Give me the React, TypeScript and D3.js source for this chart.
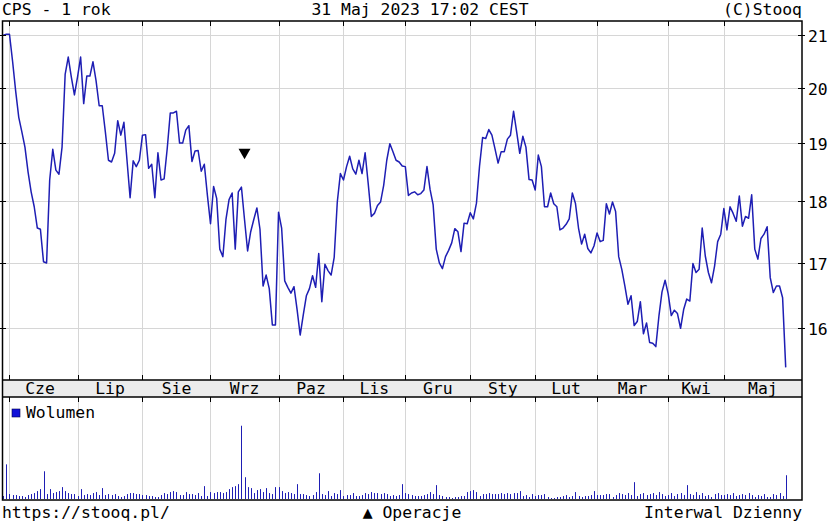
import React from 'react';
import * as d3 from 'd3';

const title = 'CPS - 1 rok';
const dateLabel = '31 Maj 2023 17:02 CEST';
const copyright = '(C)Stooq';
const footerLeft = 'https://stooq.pl/';
const footerMid = '▲ Operacje';
const footerRight = 'Interwal Dzienny';
const legendLabel = 'Wolumen';

const monthLabels = ['Cze', 'Lip', 'Sie', 'Wrz', 'Paz', 'Lis', 'Gru', 'Sty', 'Lut', 'Mar', 'Kwi', 'Maj'];
// trading-day index where each month starts
const monthStart = [2, 24, 45, 67, 89, 110, 130, 151, 172, 192, 215, 233];
const yTicks = [16, 17, 18, 19, 20, 21];
const yDomain = [15.25, 21.28];

const close = [
  21.0, 21.02, 21.02, 20.5, 19.94, 19.46, 19.2, 18.93, 18.5, 18.16,
  17.91, 17.56, 17.54, 17.02, 17.0, 18.36, 18.89, 18.53, 18.46, 18.93,
  20.25, 20.58, 20.2, 19.87, 20.2, 20.58, 19.71, 20.22, 20.22, 20.49,
  20.13, 19.67, 19.67, 19.2, 18.7, 18.67, 18.82, 19.4, 19.14, 19.37,
  18.7, 18.06, 18.69, 18.59, 18.7, 19.14, 19.15, 18.56, 18.63, 18.06,
  18.83, 18.36, 18.38, 18.9, 19.54, 19.54, 19.57, 19.0, 19.0, 19.23,
  19.31, 18.68, 18.86, 18.87, 18.51, 18.63, 18.1, 17.63, 18.25, 18.05,
  17.22, 17.1, 17.7, 18.03, 18.14, 17.22, 18.16, 18.24, 17.7, 17.19,
  17.5, 17.7, 17.89, 17.54, 16.64, 16.81, 16.6, 16.05, 16.05, 17.82,
  17.56, 16.72, 16.62, 16.53, 16.63, 16.28, 15.9, 16.2, 16.49, 16.6,
  16.8, 16.62, 17.15, 16.4, 16.98, 16.88, 16.81, 17.09, 17.99, 18.47,
  18.36, 18.59, 18.77, 18.55, 18.46, 18.7, 18.47, 18.83, 18.3, 17.75,
  17.8, 17.93, 17.99, 18.27, 18.7, 18.99, 18.85, 18.7, 18.67, 18.6,
  18.59, 18.1, 18.14, 18.16, 18.11, 18.13, 18.19, 18.59, 18.2, 17.94,
  17.22, 17.0, 16.91, 17.1, 17.2, 17.32, 17.55, 17.5, 17.18, 17.64,
  17.63, 17.81, 17.71, 17.97, 18.6, 19.1, 19.08, 19.24, 19.14, 18.9,
  18.65, 18.85, 18.85, 19.07, 19.14, 19.57, 19.2, 18.82, 19.12, 18.93,
  18.37, 18.36, 18.19, 18.79, 18.59, 17.91, 17.91, 18.14, 17.96, 17.91,
  17.53, 17.56, 17.62, 17.71, 18.14, 17.97, 17.56, 17.3, 17.46, 17.23,
  17.16, 17.27, 17.48, 17.34, 17.36, 17.96, 17.79, 17.99, 17.83, 17.1,
  16.9, 16.64, 16.36, 16.49, 16.04, 16.1, 16.4, 15.92, 16.08, 15.79,
  15.78, 15.73, 16.18, 16.55, 16.73, 16.52, 16.19, 16.27, 16.22, 16.0,
  16.28, 16.44, 16.41, 16.99, 16.85, 16.9, 17.56, 17.11, 16.85, 16.69,
  16.95, 17.34, 17.46, 17.88, 17.53, 17.91, 17.8, 17.67, 18.09, 17.59,
  17.75, 17.72, 18.11, 17.22, 17.06, 17.39, 17.46, 17.58, 16.77, 16.54,
  16.64, 16.64, 16.46, 15.43,
];

const volume = [
  3, 35, 5, 4, 4, 3, 3, 2, 4, 5,
  6, 8, 10, 28, 5, 10, 6, 7, 8, 12,
  8, 6, 5, 5, 3, 10, 4, 5, 4, 6,
  7, 4, 11, 4, 5, 4, 5, 3, 2, 3,
  5, 6, 6, 5, 5, 4, 4, 3, 3, 2,
  2, 4, 6, 5, 7, 8, 7, 4, 4, 7,
  5, 5, 4, 6, 3, 13, 3, 7, 6, 7,
  7, 6, 7, 10, 12, 13, 15, 74, 22, 12,
  11, 6, 9, 10, 7, 11, 6, 5, 12, 12,
  8, 6, 7, 6, 5, 15, 5, 5, 4, 3,
  4, 7, 26, 5, 4, 8, 3, 6, 5, 9,
  3, 4, 4, 6, 3, 3, 4, 6, 5, 7,
  6, 6, 5, 6, 5, 3, 4, 3, 4, 15,
  6, 5, 4, 3, 3, 3, 4, 5, 7, 5,
  14, 4, 3, 2, 2, 1, 2, 2, 3, 3,
  7, 8, 9, 7, 3, 5, 5, 6, 5, 5,
  5, 6, 5, 6, 5, 6, 6, 8, 3, 4,
  2, 5, 3, 4, 4, 5, 2, 1, 1, 2,
  2, 3, 4, 2, 3, 7, 3, 2, 3, 3,
  4, 8, 4, 4, 4, 5, 5, 2, 4, 6,
  5, 4, 6, 4, 17, 3, 5, 6, 4, 5,
  6, 4, 7, 5, 3, 4, 6, 3, 5, 6,
  4, 14, 5, 4, 7, 4, 6, 3, 4, 2,
  5, 6, 4, 4, 5, 4, 6, 3, 4, 5,
  4, 6, 4, 2, 4, 3, 5, 2, 2, 5,
  4, 6, 3, 24,
];
const volumeMax = 100;

const operations = [{ index: 78, level: 18.84 }];

const W = 829;
const H = 523;
const L = 2.5;
const R = 802;
const mainTop = 21;
const mainBot = 380;
const bandBot = 397;
const volTop = 397;
const volBot = 500;
const FONT = '"DejaVu Sans Mono", monospace';
const FS = 16.4;
const BLUE = '#1e1eb4';
const GRID = '#d6d6d6';

export default function App() {
  const x = d3.scaleLinear().domain([0, close.length - 1]).range([3.3, 785.7]);
  const y = d3.scaleLog().domain(yDomain).range([mainBot, mainTop]);
  const yv = d3.scaleLinear().domain([0, volumeMax]).range([volBot - 1, volBot - 100]);

  const line = d3
    .line<number>()
    .x((_, i) => x(i))
    .y((d) => y(d));

  const tickXs = monthStart.map((s) => Math.round(x(s)) + 0.5);
  const labelXs = monthStart.map((s, i) => {
    const a = i === 0 ? L : x(s);
    const b = i + 1 < monthStart.length ? x(monthStart[i + 1]) : R;
    return i === 0 ? (L + x(monthStart[1])) / 2 : (a + b) / 2;
  });
  const gridXs = tickXs;

  const tri = d3.symbol().type(d3.symbolTriangle).size(62)() as string;

  return (
    <svg
      width={W}
      height={H}
      viewBox={`0 0 ${W} ${H}`}
      style={{ position: 'absolute', left: 0, top: 0, background: '#fff' }}
      fontFamily={FONT}
      fontSize={FS}
    >
      <rect x={0} y={0} width={W} height={H} fill="#fff" />
      {/* header */}
      <text x={2} y={15} fill="#000">{title}</text>
      <text x={420} y={15} textAnchor="middle" fill="#000">{dateLabel}</text>
      <text x={R} y={15} textAnchor="end" fill="#000">{copyright}</text>

      {/* main grid */}
      {gridXs.map((gx, i) => (
        <line key={'gv' + i} x1={gx} x2={gx} y1={mainTop} y2={mainBot} stroke={GRID} strokeWidth={1} />
      ))}
      {yTicks.map((t) => {
        const gy = Math.round(y(t)) + 0.5;
        return <line key={'gh' + t} x1={L} x2={R} y1={gy} y2={gy} stroke={GRID} strokeWidth={1} />;
      })}

      {/* price line */}
      <path d={line(close) || ''} fill="none" stroke={BLUE} strokeWidth={1.5} strokeLinejoin="round" />

      {/* operations */}
      {operations.map((o, i) => (
        <path key={'op' + i} d={tri} transform={`translate(${x(o.index)},${y(o.level)}) rotate(180)`} fill="#000" />
      ))}

      {/* month band */}
      <rect x={L} y={mainBot} width={R - L} height={bandBot - mainBot} fill="#ececec" />
      {monthLabels.map((m, i) => (
        <text key={'ml' + i} x={labelXs[i]} y={394} textAnchor="middle" fill="#000">{m}</text>
      ))}

      {/* volume grid */}
      {gridXs.map((gx, i) => (
        <line key={'vg' + i} x1={gx} x2={gx} y1={volTop} y2={volBot} stroke={GRID} strokeWidth={1} />
      ))}
      {volume.map((v, i) => {
        const bx = Math.round(x(i)) + 0.5;
        return <line key={'vb' + i} x1={bx} x2={bx} y1={volBot - 1} y2={yv(v)} stroke={BLUE} strokeWidth={1} />;
      })}
      <rect x={12} y={409} width={8} height={8} fill="#1010d8" stroke="#000050" strokeWidth={0.6} />
      <text x={26} y={418} fill="#000">{legendLabel}</text>

      {/* frames */}
      <rect x={L} y={mainTop} width={R - L} height={volBot - mainTop} fill="none" stroke="#000" strokeWidth={1.5} />
      <line x1={L} x2={R} y1={mainBot} y2={mainBot} stroke="#000" strokeWidth={1.5} />
      <line x1={L} x2={R} y1={bandBot} y2={bandBot} stroke="#000" strokeWidth={1.5} />

      {/* month ticks */}
      {tickXs.map((tx, i) => (
        <g key={'mt' + i} stroke="#000" strokeWidth={1}>
          <line x1={tx} x2={tx} y1={mainTop} y2={mainTop + 5} />
          <line x1={tx} x2={tx} y1={mainBot - 5} y2={mainBot} />
          <line x1={tx} x2={tx} y1={bandBot} y2={bandBot + 5} />
        </g>
      ))}

      {/* y ticks + labels */}
      {yTicks.map((t) => {
        const gy = Math.round(y(t)) + 0.5;
        return (
          <g key={'yt' + t}>
            <line x1={0} x2={6} y1={gy} y2={gy} stroke="#000" strokeWidth={1} />
            <line x1={R - 4} x2={R + 3} y1={gy} y2={gy} stroke="#000" strokeWidth={1} />
            <text x={808} y={gy + 6} fill="#000">{t}</text>
          </g>
        );
      })}

      {/* footer */}
      <text x={2} y={518} fill="#000">{footerLeft}</text>
      <text x={412} y={518} textAnchor="middle" fill="#000">{footerMid}</text>
      <text x={R} y={518} textAnchor="end" fill="#000">{footerRight}</text>
    </svg>
  );
}
